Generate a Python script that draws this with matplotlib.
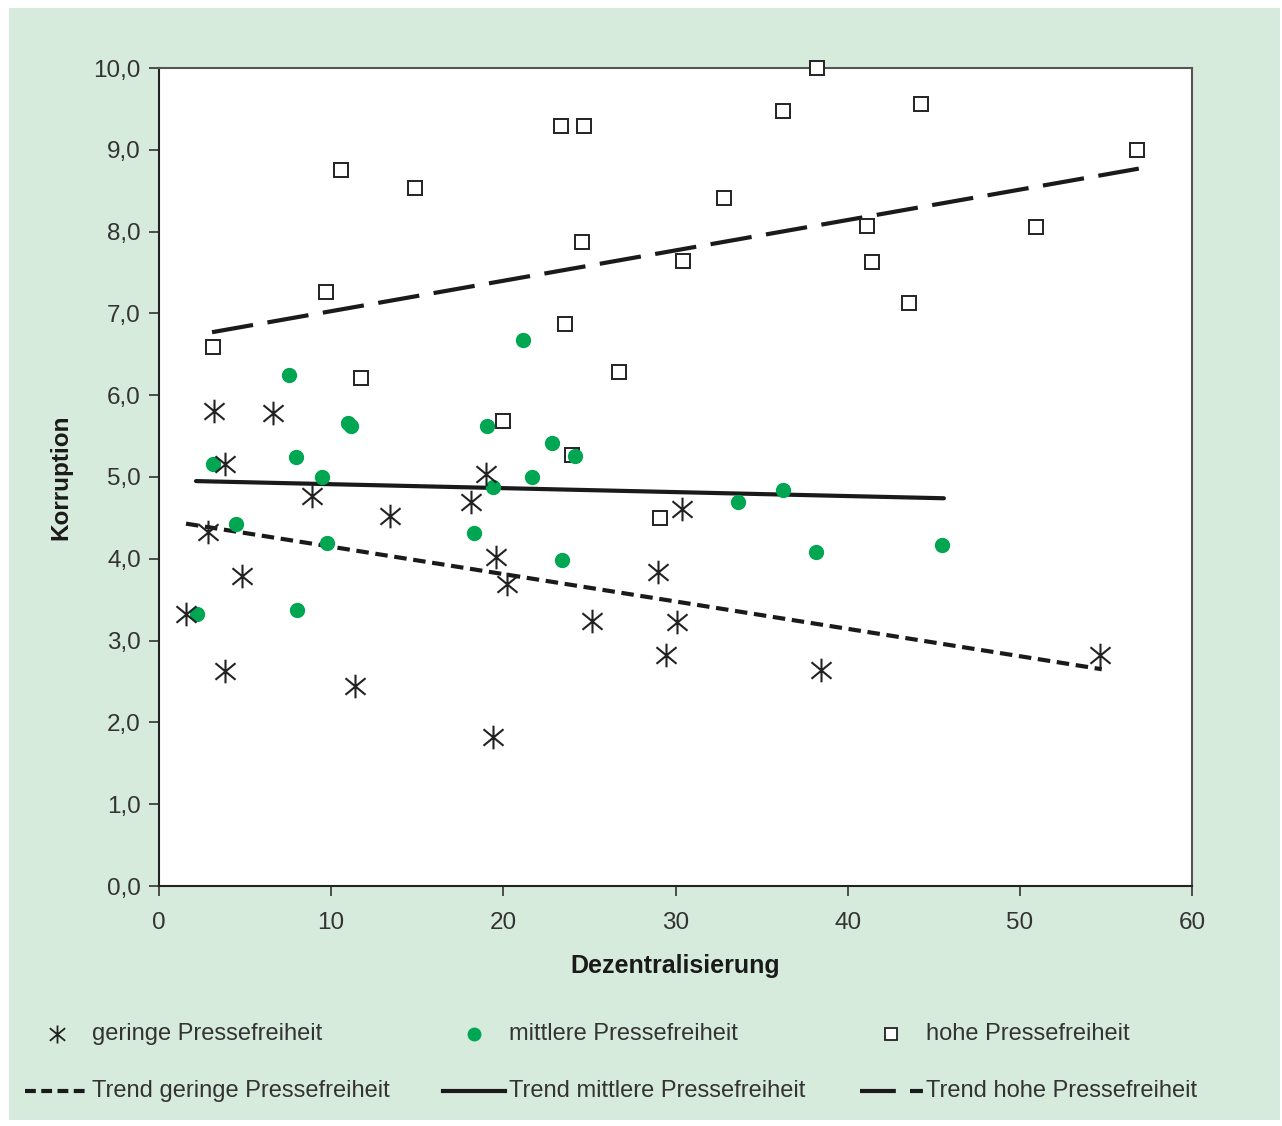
import matplotlib
matplotlib.use("Agg")
import matplotlib.pyplot as plt
from matplotlib.path import Path
from matplotlib.lines import Line2D
from matplotlib.patches import Rectangle
from matplotlib.ticker import FuncFormatter

# ---- data ----
low_x = [1.57, 3.19, 3.83, 2.85, 3.83, 4.82, 6.62, 8.88, 11.38, 13.41, 18.12, 18.99,
         19.57, 19.4, 20.21, 25.14, 28.98, 29.44, 30.08, 30.37, 38.44, 54.65]
low_y = [3.33, 5.81, 5.16, 4.33, 2.63, 3.79, 5.78, 4.77, 2.44, 4.52, 4.69, 5.04,
         4.02, 1.82, 3.69, 3.24, 3.84, 2.82, 3.23, 4.61, 2.64, 2.82]

mid_x = [2.21, 3.14, 4.47, 7.55, 7.96, 8.01, 9.47, 9.76, 10.98, 11.15, 18.29, 19.05,
         19.40, 21.14, 21.66, 22.82, 23.4, 24.16, 33.62, 36.24, 38.15, 45.47]
mid_y = [3.33, 5.16, 4.43, 6.25, 5.24, 3.37, 5.0, 4.19, 5.66, 5.62, 4.32, 5.62,
         4.88, 6.67, 5.0, 5.42, 3.99, 5.26, 4.69, 4.84, 4.08, 4.17]

high_x = [3.14, 9.7, 10.57, 11.73, 14.87, 19.98, 23.34, 23.58, 23.98, 24.56, 24.68,
          26.71, 29.09, 30.43, 32.81, 36.24, 38.21, 41.11, 41.4, 43.55, 44.25, 50.93, 56.79]
high_y = [6.59, 7.26, 8.75, 6.21, 8.53, 5.68, 9.29, 6.87, 5.27, 7.87, 9.29,
          6.28, 4.5, 7.64, 8.41, 9.47, 10.0, 8.07, 7.63, 7.13, 9.56, 8.06, 9.0]

trend_low_x = [1.57, 54.76]
trend_low_y = [4.43, 2.65]
trend_mid_x = [2.15, 45.59]
trend_mid_y = [4.95, 4.74]
trend_high_x = [3.08, 56.91]
trend_high_y = [6.77, 8.77]

x_ticks = [0, 10, 20, 30, 40, 50, 60]
y_ticks = [0, 1, 2, 3, 4, 5, 6, 7, 8, 9, 10]

labels = ["geringe Pressefreiheit", "mittlere Pressefreiheit", "hohe Pressefreiheit"]
trend_labels = ["Trend geringe Pressefreiheit", "Trend mittlere Pressefreiheit",
                "Trend hohe Pressefreiheit"]
x_label = "Dezentralisierung"
y_label = "Korruption"

# ---- style ----
BG = "#d7ebdd"
GREEN = "#00a651"
DARK = "#1a1a1a"
plt.rcParams["font.family"] = ["Liberation Sans", "DejaVu Sans"]

star = Path([(0, -1), (0, 1), (-0.85, -0.7), (0.85, 0.7), (-0.85, 0.7), (0.85, -0.7)],
            [Path.MOVETO, Path.LINETO, Path.MOVETO, Path.LINETO, Path.MOVETO, Path.LINETO])

W, H = 1282, 1126
fig = plt.figure(figsize=(W / 100, H / 100), dpi=100, facecolor="white")
fig.patches.append(Rectangle((9 / W, 1 - 1120 / H), (1280 - 9) / W, (1120 - 8) / H,
                             transform=fig.transFigure, facecolor=BG, edgecolor="none", zorder=-10))

ax = fig.add_axes([159 / W, 1 - 886 / H, (1192 - 159) / W, (886 - 68) / H])
ax.set_zorder(5)
ax.set_facecolor("white")
ax.set_xlim(0, 60)
ax.set_ylim(0, 10)
ax.set_xticks(x_ticks)
ax.set_yticks(y_ticks)
ax.yaxis.set_major_formatter(FuncFormatter(lambda v, p: f"{v:.1f}".replace(".", ",")))
ax.tick_params(direction="out", length=7, width=1.2, colors="#333333",
               labelsize=17.5, labelcolor="#333333")
ax.tick_params(axis="x", pad=12)
ax.tick_params(axis="y", pad=6)
for s in ax.spines.values():
    s.set_linewidth(1.5)
    s.set_color("#555555")
ax.spines["left"].set_color("#222222")
ax.spines["bottom"].set_color("#222222")

ax.set_xlabel(x_label, fontsize=18, fontweight="bold", color=DARK, labelpad=14)
ax.set_ylabel(y_label, fontsize=17.5, fontweight="bold", color=DARK, labelpad=15)

low_ls = (0, (3, 1.6))
high_ls = (0, (10, 3.5))
ax.plot(trend_low_x, trend_low_y, color=DARK, lw=3, ls=low_ls, zorder=2)
ax.plot(trend_mid_x, trend_mid_y, color=DARK, lw=3, zorder=2, solid_capstyle="round")
ax.plot(trend_high_x, trend_high_y, color=DARK, lw=3, ls=high_ls, zorder=2)

ax.plot(high_x, high_y, ls="none", marker="s", ms=9.5, mfc="white", mec="#222222", mew=1.4, zorder=3)
ax.plot(mid_x, mid_y, ls="none", marker="o", ms=10, mfc=GREEN, mec=GREEN, zorder=4)
ax.plot(low_x, low_y, ls="none", marker=star, ms=17, mfc="none", mec="#222222", mew=1.5, zorder=5)
for l in ax.lines:
    l.set_clip_on(False)

# ---- legend (manual, figure coordinates in pixels) ----
def fx(px):
    return px / W

def fy(py):
    return 1 - py / H

mk_x = [57, 474, 891]
txt_x = [92, 509, 926]
row1, row2 = 1034, 1091
fig.add_artist(Line2D([fx(mk_x[0])], [fy(row1)], marker=star, ms=13, mec="#222222",
                      mfc="none", mew=1.3, ls="none"))
fig.add_artist(Line2D([fx(mk_x[1])], [fy(row1)], marker="o", ms=9, mec=GREEN, mfc=GREEN, ls="none"))
fig.add_artist(Line2D([fx(mk_x[2])], [fy(row1)], marker="s", ms=8, mec="#222222",
                      mfc="white", mew=1.3, ls="none"))
for x, t in zip(txt_x, labels):
    fig.text(fx(x), fy(row1), t, fontsize=17, color="#333333", va="center", ha="left")

line_starts = [25, 443, 860]
line_ends = [88, 505, 923]
styles = [(0, (2.6, 1.3)), "-", (0, (8.6, 3.4, 3.1, 10))]
for s, e, st in zip(line_starts, line_ends, styles):
    fig.add_artist(Line2D([fx(s), fx(e)], [fy(row2), fy(row2)], color=DARK, lw=3, ls=st))
for x, t in zip(txt_x, trend_labels):
    fig.text(fx(x), fy(row2), t, fontsize=17, color="#333333", va="center", ha="left")

fig.savefig("out.png", dpi=100, facecolor="white")
